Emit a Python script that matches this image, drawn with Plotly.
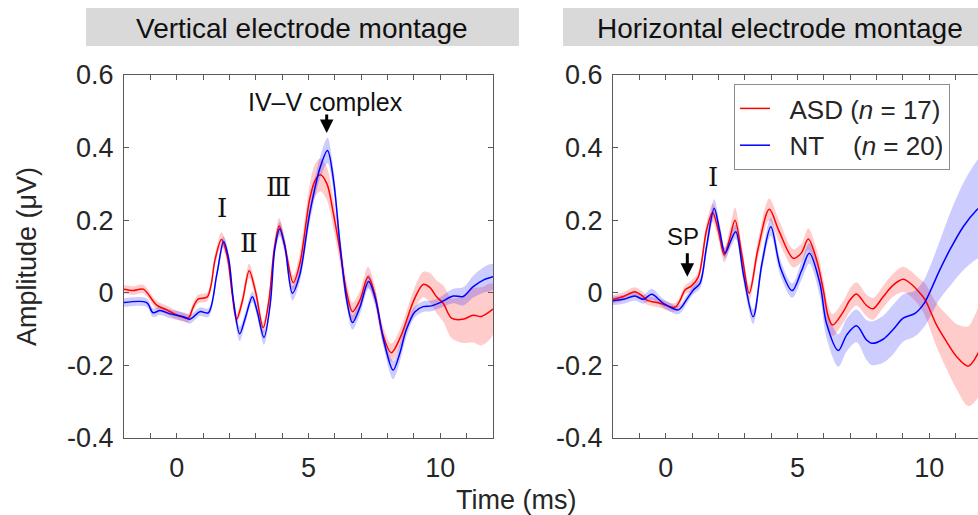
import numpy as np
import plotly.graph_objects as go

# ---------------- data ----------------
# Vertical montage, ASD
t_v_asd = [-2.0, -1.65, -1.27, -0.76, -0.38, 0.0, 0.44, 0.62, 0.82, 1.15, 1.3, 1.45, 1.7, 1.92, 2.1, 2.27, 2.5,
           2.75, 3.0, 3.28, 3.5, 3.7, 3.89, 4.1, 4.42, 4.67, 5.05, 5.25, 5.45, 5.7, 5.94, 6.19, 6.45, 6.67, 6.95,
           7.26, 7.5, 7.8, 8.14, 8.5, 9.0, 9.35, 9.6, 9.86, 10.11, 10.43, 10.85, 11.25, 11.56, 12.0]
v_v_asd = [0.010, 0.006, 0.010, -0.034, -0.047, -0.061, -0.069, -0.040, -0.017, -0.012, 0.02, 0.09, 0.147, 0.10,
           0.0, -0.073, -0.02, 0.061, 0.0, -0.096, -0.02, 0.12, 0.184, 0.13, 0.028, 0.08, 0.26, 0.31, 0.325, 0.30,
           0.22, 0.118, 0.0, -0.052, -0.02, 0.044, 0.0, -0.11, -0.165, -0.12, -0.02, 0.023, 0.015, -0.011, -0.029,
           -0.07, -0.073, -0.062, -0.065, -0.045]
e_v_asd = [0.012] * 10 + [0.012, 0.015, 0.02, 0.018, 0.015, 0.015, 0.015, 0.02, 0.018, 0.015,
                          0.015, 0.018, 0.022, 0.02, 0.02, 0.03, 0.04, 0.045, 0.045, 0.045,
                          0.04, 0.035, 0.03, 0.025, 0.025, 0.028, 0.025, 0.025, 0.025, 0.025,
                          0.03, 0.035, 0.04, 0.045, 0.05, 0.055, 0.065, 0.075, 0.08, 0.07]

# Vertical montage, NT
t_v_nt = [-2.0, -1.14, -0.9, -0.63, -0.25, 0.26, 0.5, 0.88, 1.2, 1.52, 1.78, 1.98, 2.15, 2.39, 2.6, 2.87, 3.05,
          3.31, 3.55, 3.72, 3.91, 4.1, 4.39, 4.67, 5.05, 5.45, 5.72, 5.95, 6.19, 6.45, 6.67, 6.95, 7.28, 7.55,
          7.85, 8.21, 8.45, 8.71, 9.04, 9.35, 9.67, 9.99, 10.49, 10.87, 11.25, 11.63, 12.0]
v_v_nt = [-0.027, -0.027, -0.055, -0.049, -0.058, -0.066, -0.073, -0.052, -0.055, 0.05, 0.141, 0.09, -0.02,
          -0.113, -0.07, -0.011, -0.05, -0.123, -0.03, 0.12, 0.176, 0.13, -0.001, 0.05, 0.22, 0.347, 0.392, 0.31,
          0.137, -0.02, -0.082, -0.04, 0.031, -0.02, -0.13, -0.213, -0.17, -0.102, -0.052, -0.038, -0.036, -0.027,
          -0.009, -0.01, 0.017, 0.035, 0.044]
e_v_nt = [0.012] * 10 + [0.015, 0.015, 0.015, 0.02, 0.015, 0.015, 0.015, 0.02, 0.015, 0.015,
                         0.02, 0.018, 0.02, 0.02, 0.025, 0.03, 0.035, 0.03, 0.025, 0.02,
                         0.02, 0.02, 0.02, 0.02, 0.02, 0.025, 0.025, 0.02, 0.015, 0.015,
                         0.015, 0.015, 0.02, 0.025, 0.03, 0.035, 0.035]

# Horizontal montage, ASD
t_h_asd = [-2.0, -1.6, -1.17, -0.9, -0.72, -0.22, 0.35, 0.55, 0.73, 0.98, 1.24, 1.55, 1.78, 2.0, 2.22, 2.43, 2.63,
           2.9, 3.17, 3.5, 3.93, 4.3, 4.84, 5.15, 5.41, 5.73, 5.98, 6.17, 6.33, 6.74, 6.99, 7.24, 7.62, 7.87, 8.25,
           8.63, 9.01, 9.3, 9.65, 9.85, 10.28, 10.66, 11.04, 11.48, 11.9]
v_h_asd = [-0.018, -0.01, 0.003, -0.008, -0.02, -0.029, -0.04, -0.02, 0.008, 0.019, 0.044, 0.173, 0.221, 0.17,
           0.104, 0.15, 0.20, 0.1, -0.001, 0.12, 0.230, 0.17, 0.095, 0.11, 0.148, 0.09, 0.008, -0.066, -0.089,
           -0.052, -0.02, -0.003, -0.035, -0.044, -0.011, 0.021, 0.037, 0.025, -0.001, -0.02, -0.089, -0.135,
           -0.176, -0.202, -0.16]
e_h_asd = [0.012] * 9 + [0.015,
                         0.015, 0.02, 0.025, 0.022, 0.02, 0.025, 0.035, 0.025, 0.02, 0.025,
                         0.03, 0.03, 0.025, 0.025, 0.03, 0.03, 0.03, 0.03, 0.03, 0.03,
                         0.032, 0.032, 0.03, 0.03, 0.03, 0.032, 0.035, 0.035, 0.038, 0.045,
                         0.06, 0.075, 0.09, 0.11, 0.12]

# Horizontal montage, NT
t_h_nt = [-2.0, -1.6, -1.17, -0.85, -0.53, -0.09, 0.48, 0.80, 1.05, 1.3, 1.55, 1.84, 2.05, 2.25, 2.45, 2.66, 2.95,
          3.32, 3.65, 3.99, 4.35, 4.80, 5.15, 5.45, 5.85, 6.1, 6.55, 6.87, 7.24, 7.62, 7.81, 8.25, 8.63, 9.01,
          9.46, 9.8, 10.03, 10.4, 10.78, 11.29, 11.8, 12.0]
v_h_nt = [-0.022, -0.018, -0.009, -0.018, -0.004, -0.029, -0.047, -0.018, 0.008, 0.026, 0.127, 0.233, 0.17,
          0.109, 0.14, 0.168, 0.05, -0.066, 0.08, 0.182, 0.07, 0.006, 0.06, 0.109, 0.026, -0.084, -0.159, -0.116,
          -0.091, -0.13, -0.139, -0.128, -0.101, -0.07, -0.057, -0.03, 0.003, 0.063, 0.118, 0.182, 0.228, 0.24]
e_h_nt = [0.012, 0.012, 0.012, 0.012, 0.015, 0.012, 0.012, 0.012, 0.012, 0.015,
          0.02, 0.025, 0.02, 0.015, 0.018, 0.02, 0.02, 0.02, 0.02, 0.025,
          0.022, 0.02, 0.025, 0.028, 0.035, 0.04, 0.045, 0.045, 0.045, 0.055,
          0.06, 0.065, 0.068, 0.065, 0.063, 0.065, 0.07, 0.08, 0.1, 0.12,
          0.135, 0.14]

group_names = ["\u00a0\u00a0ASD (<i>n</i> = 17)", "\u00a0\u00a0NT\u00a0\u00a0\u00a0\u00a0(<i>n</i> = 20)"]
panel_titles = ["Vertical electrode montage", "Horizontal electrode montage"]
x_ticks = [0, 5, 10]
y_ticks = [-0.4, -0.2, 0, 0.2, 0.4, 0.6]
y_ticklabels = ["-0.4", "-0.2", "0", "0.2", "0.4", "0.6"]

# ---------------- figure ----------------
W, H = 978, 515
RED = "#ff0000"
BLUE = "#0000ff"
RED_FILL = "rgba(255,0,0,0.2)"
BLUE_FILL = "rgba(0,0,255,0.2)"
FONT = "Liberation Sans, Arial, sans-serif"
AXC = "#595959"
TXT = "#262626"

fig = go.Figure()

panels = [
    ("x", "y", [(t_v_asd, v_v_asd, e_v_asd, RED, RED_FILL), (t_v_nt, v_v_nt, e_v_nt, BLUE, BLUE_FILL)]),
    ("x2", "y2", [(t_h_asd, v_h_asd, e_h_asd, RED, RED_FILL), (t_h_nt, v_h_nt, e_h_nt, BLUE, BLUE_FILL)]),
]

for pi, (xa, ya, series) in enumerate(panels):
    for t, v, e, col, fcol in series:
        t = np.array(t); v = np.array(v); e = np.array(e)
        fig.add_trace(go.Scatter(
            x=np.concatenate([t, t[::-1]]),
            y=np.concatenate([v + e, (v - e)[::-1]]),
            fill="toself", fillcolor=fcol, line=dict(width=0, shape="spline", smoothing=0.9),
            mode="lines", hoverinfo="skip", showlegend=False, xaxis=xa, yaxis=ya))
    for si, (t, v, e, col, fcol) in enumerate(series):
        fig.add_trace(go.Scatter(
            x=t, y=v, mode="lines", line=dict(color=col, width=1.5, shape="spline", smoothing=0.9),
            name=group_names[si], showlegend=(pi == 1), xaxis=xa, yaxis=ya))

L1, R1 = 124 / W, 493 / W
L2, R2 = 613 / W, 1.0
YB, YT = 1 - 438 / H, 1 - 75 / H

common_x = dict(tickmode="array", tickvals=x_ticks, ticks="inside", ticklen=5, tickcolor=AXC,
                minor=dict(dtick=1, tick0=0, ticks="inside", ticklen=5, tickcolor=AXC),
                showline=True, linecolor=AXC, linewidth=1, showgrid=False, zeroline=False,
                ticklabelstandoff=6,
                tickfont=dict(family=FONT, size=27, color=TXT))
common_y = dict(range=[-0.4, 0.6], tickmode="array", tickvals=y_ticks, ticktext=y_ticklabels,
                ticks="inside", ticklen=5, tickcolor=AXC, showline=True, linecolor=AXC, linewidth=1,
                showgrid=False, zeroline=False, ticklabelstandoff=4,
                tickfont=dict(family=FONT, size=27, color=TXT), domain=[YB, YT])

fig.update_layout(
    width=W, height=H, margin=dict(l=0, r=0, t=0, b=0, autoexpand=False),
    plot_bgcolor="white", paper_bgcolor="white",
    xaxis=dict(domain=[L1, R1], range=[-2, 12], anchor="y", mirror="ticks", **common_x),
    yaxis=dict(anchor="x", mirror="ticks", **common_y),
    xaxis2=dict(domain=[L2, R2], range=[-2, 11.85], anchor="y2", mirror="ticks", **common_x),
    yaxis2=dict(anchor="x2", mirror=False, **common_y),
    legend=dict(x=734 / W, y=1 - 84 / H, xanchor="left", yanchor="top", bgcolor="white",
                bordercolor="#8c8c8c", borderwidth=1, font=dict(family=FONT, size=26, color=TXT),
                traceorder="normal", tracegroupgap=0, itemwidth=30),
    showlegend=True,
)

fig.add_shape(type="rect", xref="paper", yref="paper", x0=86 / W, x1=519 / W, y0=1 - 46 / H, y1=1 - 8 / H,
              fillcolor="#d9d9d9", line=dict(width=0), layer="below")
fig.add_shape(type="rect", xref="paper", yref="paper", x0=563 / W, x1=1.0, y0=1 - 46 / H, y1=1 - 8 / H,
              fillcolor="#d9d9d9", line=dict(width=0), layer="below")

C = dict(xanchor="center", yanchor="middle", showarrow=False)
ann = []
ann.append(dict(text=panel_titles[0], x=302 / W, y=1 - 28 / H, xref="paper", yref="paper",
                font=dict(family=FONT, size=28, color="#111"), **C))
ann.append(dict(text=panel_titles[1], x=780 / W, y=1 - 28 / H, xref="paper", yref="paper",
                font=dict(family=FONT, size=28, color="#111"), **C))
ann.append(dict(text="Amplitude (μV)", x=27 / W, y=1 - 257 / H, xref="paper", yref="paper", textangle=-90,
                font=dict(family=FONT, size=27, color=TXT), **C))
ann.append(dict(text="Time (ms)", x=516 / W, y=1 - 500 / H, xref="paper", yref="paper",
                font=dict(family=FONT, size=27, color=TXT), **C))

SERIF = "DejaVu Serif, Liberation Serif, serif"
ann.append(dict(text="IV\u2013V complex", x=5.66, y=0.525, xref="x", yref="y",
                font=dict(family=FONT, size=25, color="#111"), **C))
ann.append(dict(text="", x=5.69, y=0.44, xref="x", yref="y", showarrow=True, ax=0, ay=-20,
                arrowhead=2, arrowsize=0.9, arrowwidth=3, arrowcolor="black"))
ann.append(dict(text="\u2160", x=1.71, y=0.234, xref="x", yref="y",
                font=dict(family=SERIF, size=26, color="#111"), **C))
ann.append(dict(text="\u2161", x=2.75, y=0.137, xref="x", yref="y",
                font=dict(family=SERIF, size=26, color="#111"), **C))
ann.append(dict(text="\u2162", x=3.85, y=0.291, xref="x", yref="y",
                font=dict(family=SERIF, size=26, color="#111"), **C))
ann.append(dict(text="\u2160", x=1.78, y=0.319, xref="x2", yref="y2",
                font=dict(family=SERIF, size=26, color="#111"), **C))
ann.append(dict(text="SP", x=0.67, y=0.154, xref="x2", yref="y2",
                font=dict(family=FONT, size=24, color="#111"), **C))
ann.append(dict(text="", x=0.82, y=0.044, xref="x2", yref="y2", showarrow=True, ax=0, ay=-25,
                arrowhead=2, arrowsize=0.9, arrowwidth=3, arrowcolor="black"))
fig.update_layout(annotations=ann)

fig.write_html("out.html", config={"displayModeBar": False},
               post_script="document.body.style.margin='0';document.body.style.padding='0';")
